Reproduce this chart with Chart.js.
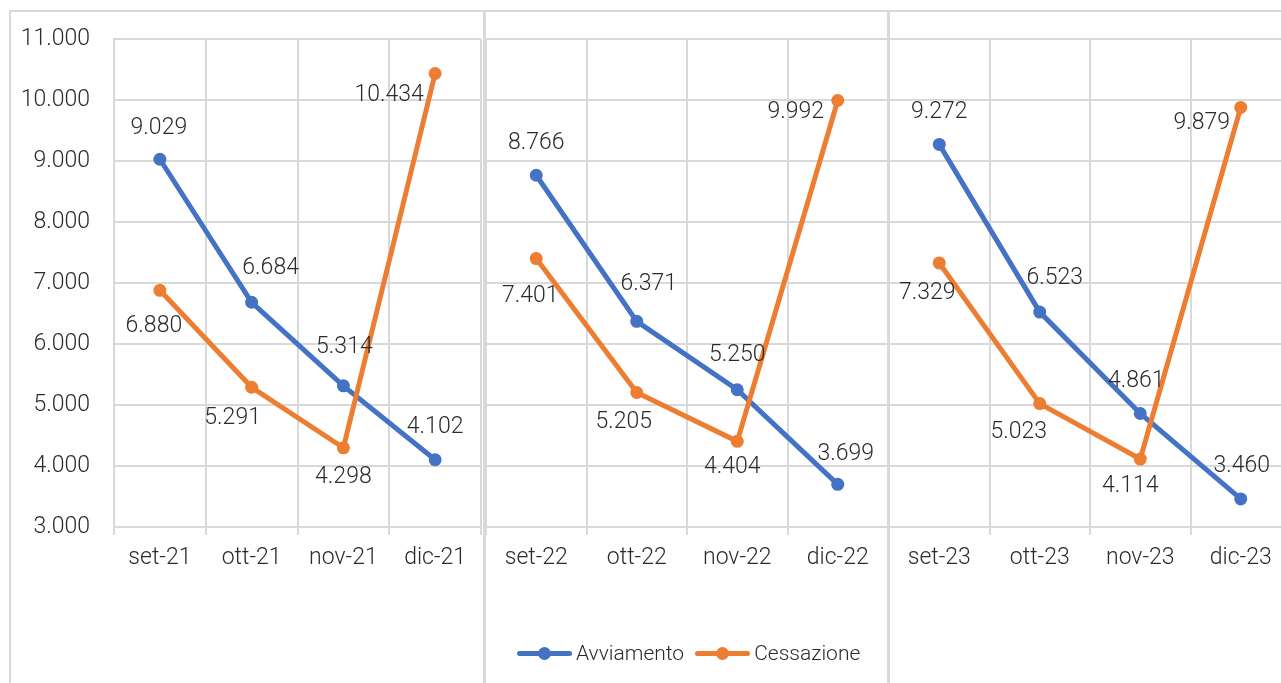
<!DOCTYPE html>
<html lang="it">
<head>
<meta charset="utf-8">
<title>Avviamenti e cessazioni</title>
<script src="https://cdn.jsdelivr.net/npm/chart.js@4.4.0/dist/chart.umd.min.js"></script>
<style>
    html, body { margin: 0; padding: 0; background: #fff; overflow: hidden; }
    #wrap { position: relative; width: 1281px; height: 683px; overflow: hidden; font-family: Roboto, "Noto Sans", sans-serif; }
    #wrap canvas { position: absolute; top: 0; }
    .rule { position: absolute; background: #d9d9d9; }
    #legend { position: absolute; left: 517px; top: 641px; height: 24px; display: flex; align-items: center;
              font-size: 21px; font-weight: 300; color: #2b2b2b; white-space: nowrap; }
    .key { position: relative; width: 55px; height: 5px; border-radius: 3px; margin-right: 4px; }
    .key::after { content: ""; position: absolute; left: 21px; top: -4px; width: 13px; height: 13px; border-radius: 50%; background: inherit; }
    .gap { width: 11px; }
</style>
</head>
<body>
<div id="wrap">
    <canvas id="panel21" width="484" height="683" style="left:0px"></canvas>
    <canvas id="panel22" width="402" height="683" style="left:486px"></canvas>
    <canvas id="panel23" width="402" height="683" style="left:889px"></canvas>

    <div class="rule" style="left:9px; top:10px; width:1272px; height:2px"></div>
    <div class="rule" style="left:9px; top:10px; width:2px; height:673px"></div>
    <div class="rule" style="left:483px; top:10px; width:3px; height:673px"></div>
    <div class="rule" style="left:887px; top:10px; width:3px; height:673px"></div>

    <div id="legend">
        <div class="key" style="background:#4472C4"></div><span>Avviamento</span>
        <div class="gap"></div>
        <div class="key" style="background:#ED7D31"></div><span>Cessazione</span>
    </div>
</div>

<script>
    "use strict";

    // Dati
    const mesi21 = ['set-21', 'ott-21', 'nov-21', 'dic-21'];
    const mesi22 = ['set-22', 'ott-22', 'nov-22', 'dic-22'];
    const mesi23 = ['set-23', 'ott-23', 'nov-23', 'dic-23'];

    const avviamento21 = [9029, 6684, 5314, 4102];
    const avviamento22 = [8766, 6371, 5250, 3699];
    const avviamento23 = [9272, 6523, 4861, 3460];

    const cessazione21 = [6880, 5291, 4298, 10434];
    const cessazione22 = [7401, 5205, 4404, 9992];
    const cessazione23 = [7329, 5023, 4114, 9879];

    const yTicks = [3000, 4000, 5000, 6000, 7000, 8000, 9000, 10000, 11000];

    // spostamento delle etichette rispetto al punto (dx, dy)
    const offAvv21 = [[-1, -31], [19, -34], [1, -39], [0, -33]];
    const offCes21 = [[-6, 36], [-19, 31], [0, 29], [-46, 22]];
    const offAvv22 = [[0, -32], [12, -37], [0, -35], [8, -30]];
    const offCes22 = [[-6, 38], [-13, 30], [-5, 26], [-42, 12]];
    const offAvv23 = [[0, -32], [15, -34], [-4, -32], [1, -33]];
    const offCes23 = [[-12, 30], [-21, 29], [-10, 27], [-39, 16]];

    const BLUE = '#4472C4';
    const ORANGE = '#ED7D31';
    const GRID = '#d9d9d9';
    const TEXT = '#2b2b2b';
    const FONT = { family: 'Roboto', size: 23, weight: 300 };

    function fmt(v) {
        return String(v).replace(/\B(?=(\d{3})+(?!\d))/g, '.');
    }

    const valueLabels = {
        id: 'valueLabels',
        afterDatasetsDraw(chart) {
            const ctx = chart.ctx;
            ctx.save();
            ctx.font = '300 23px Roboto';
            ctx.fillStyle = TEXT;
            ctx.textAlign = 'center';
            ctx.textBaseline = 'middle';
            chart.data.datasets.forEach(function (ds, i) {
                chart.getDatasetMeta(i).data.forEach(function (pt, j) {
                    const off = ds.labelOffsets[j];
                    ctx.fillText(fmt(ds.data[j]), pt.x + off[0], pt.y + off[1]);
                });
            });
            ctx.restore();
        }
    };

    function serie(label, data, color, offsets, order) {
        return {
            label: label,
            data: data,
            borderColor: color,
            backgroundColor: color,
            borderWidth: 5,
            pointRadius: 6.5,
            pointBorderWidth: 0,
            pointBackgroundColor: color,
            tension: 0,
            clip: 10,
            order: order,
            labelOffsets: offsets
        };
    }

    function makePanel(id, labels, avv, ces, offAvv, offCes, showY, padRight) {
        const ctx = document.getElementById(id).getContext('2d');
        return new Chart(ctx, {
            type: 'line',
            data: {
                labels: labels,
                datasets: [
                    serie('Avviamento', avv, BLUE, offAvv, 1),
                    serie('Cessazione', ces, ORANGE, offCes, 0)
                ]
            },
            options: {
                responsive: false,
                animation: false,
                layout: {
                    autoPadding: false,
                    padding: { top: 39, right: padRight, bottom: 0, left: 0 }
                },
                plugins: {
                    legend: { display: false },
                    tooltip: { enabled: false }
                },
                scales: {
                    x: {
                        offset: true,
                        grid: { offset: true, color: GRID, lineWidth: 2, tickLength: 8, drawTicks: true },
                        border: { display: false },
                        ticks: { color: TEXT, font: FONT, padding: 9, maxRotation: 0 },
                        afterFit: function (s) {
                            s.height = 156;
                            s.paddingLeft = 0;
                            s.paddingRight = 0;
                        }
                    },
                    y: {
                        min: 3000,
                        max: 11000,
                        afterBuildTicks: function (s) { s.ticks = yTicks.map(function (v) { return { value: v }; }); },
                        grid: { color: GRID, lineWidth: 2, drawTicks: false },
                        border: { display: true, color: GRID, width: 2 },
                        ticks: {
                            display: showY,
                            color: TEXT,
                            font: FONT,
                            padding: 24,
                            callback: function (v) { return fmt(v); }
                        },
                        afterFit: function (s) {
                            s.width = showY ? 114 : 0;
                            s.paddingTop = 0;
                            s.paddingBottom = 0;
                        }
                    }
                }
            },
            plugins: [valueLabels]
        });
    }

    makePanel('panel21', mesi21, avviamento21, cessazione21, offAvv21, offCes21, true, 3);
    makePanel('panel22', mesi22, avviamento22, cessazione22, offAvv22, offCes22, false, 0);
    makePanel('panel23', mesi23, avviamento23, cessazione23, offAvv23, offCes23, false, 0);
</script>
</body>
</html>
